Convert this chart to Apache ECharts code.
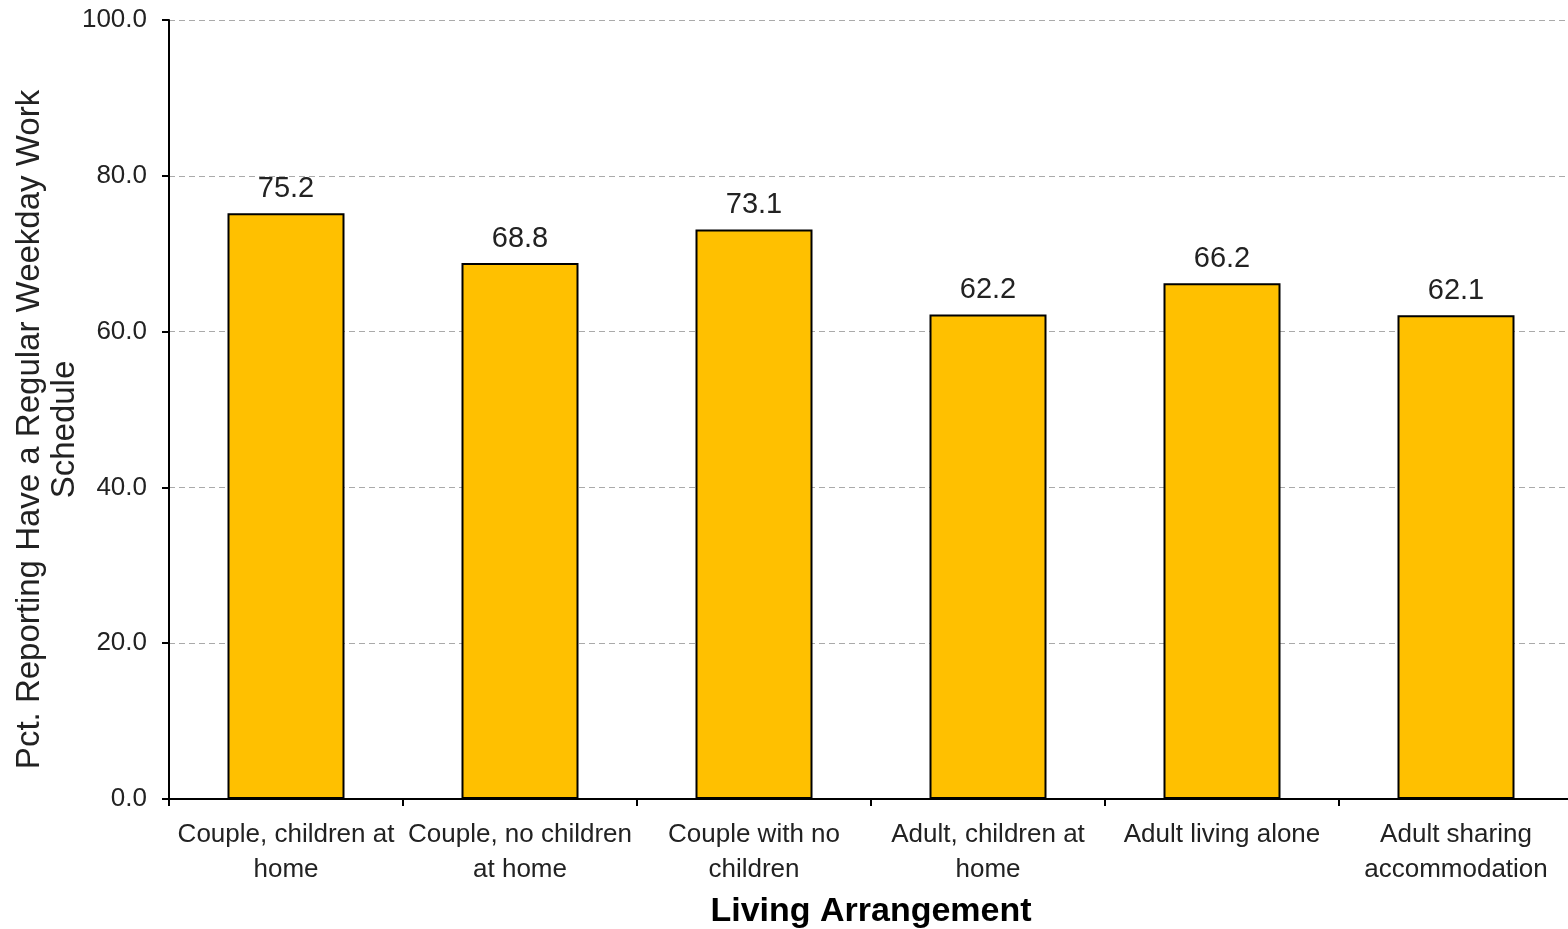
<!DOCTYPE html>
<html><head><meta charset="utf-8">
<script src="https://cdn.jsdelivr.net/npm/echarts@6/dist/echarts.min.js"></script>
<style>html,body{margin:0;padding:0;background:#fff}#c{width:1568px;height:929px}</style>
</head><body><div id="c"></div>
<script>
const categories = ["Couple, children at\nhome", "Couple, no children\nat home", "Couple with no\nchildren", "Adult, children at\nhome", "Adult living alone", "Adult sharing\naccommodation"];
const values = [75.2, 68.8, 73.1, 62.2, 66.2, 62.1];
const yTicks = [0, 20, 40, 60, 80, 100];
const xTitle = "Living Arrangement";
const yTitle = "Pct. Reporting Have a Regular Weekday Work\nSchedule";
const FONT = "'Liberation Sans Narrow', 'Liberation Sans', Arial, sans-serif";
const chart = echarts.init(document.getElementById('c'));
chart.setOption({
  animation: false,
  grid: {left: 169, right: -5, top: 20, bottom: 130, containLabel: false, outerBoundsMode: 'none'},
  xAxis: {
    type: 'category', data: categories,
    axisLine: {lineStyle: {color: '#000', width: 2}},
    axisTick: {show: true, length: 7, lineStyle: {color: '#000', width: 2}},
    axisLabel: {fontFamily: FONT, fontSize: 26, color: '#222', margin: 18, lineHeight: 35, interval: 0},
    name: xTitle, nameLocation: 'middle', nameGap: 96,
    nameTextStyle: {fontFamily: FONT, fontSize: 34, fontWeight: 'bold', color: '#000'}
  },
  yAxis: {
    type: 'value', min: yTicks[0], max: yTicks[yTicks.length-1], interval: 20,
    axisLine: {show: true, lineStyle: {color: '#000', width: 2}},
    axisTick: {show: true, length: 7, lineStyle: {color: '#000', width: 2}},
    axisLabel: {fontFamily: FONT, fontSize: 26, color: '#222', margin: 22, formatter: v => v.toFixed(1)},
    splitLine: {show: true, lineStyle: {color: '#aaa', type: [6, 4], width: 1}},
    name: yTitle, nameLocation: 'middle', nameGap: 87, nameRotate: 90, nameMoveOverlap: false,
    nameTextStyle: {fontFamily: FONT, fontSize: 33, color: '#222', lineHeight: 35, align: 'center', padding: [0, 40, 0, 0]}
  },
  series: [{
    type: 'bar', data: values, barWidth: '50%',
    itemStyle: {color: '#FFC000', borderColor: '#000', borderWidth: 2},
    label: {show: true, position: 'top', distance: 10, fontFamily: FONT, fontSize: 29, color: '#222', formatter: p => p.value.toFixed(1)}
  }]
});
</script></body></html>
